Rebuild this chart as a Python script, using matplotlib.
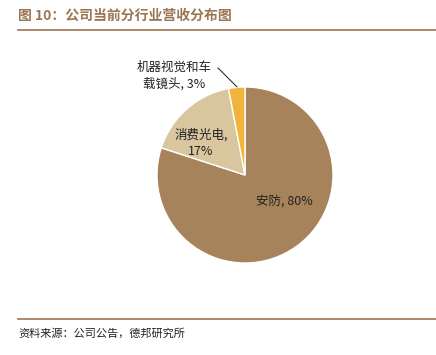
import matplotlib.pyplot as plt
from matplotlib.lines import Line2D

plt.rcParams['font.family'] = ['Noto Sans CJK SC', 'DejaVu Sans']

# data
labels = ["安防", "消费光电", "机器视觉和车\n载镜头"]
shares = [80, 17, 3]
colors = ["#A6835B", "#D9C69F", "#F1B43A"]

W, H = 436, 355
fig = plt.figure(figsize=(W / 100, H / 100), dpi=100)

# title + lines
fig.text(18 / W, 1 - 16 / H, "图 10：公司当前分行业营收分布图", fontsize=10,
         fontweight="bold", color="#9B7654", va="center", ha="left")
fig.add_artist(Line2D([18 / W, 1.0], [1 - 29.5 / H, 1 - 29.5 / H],
                      color="#A87E5E", lw=1.3))
fig.add_artist(Line2D([18 / W, 1.0], [1 - 319 / H, 1 - 319 / H],
                      color="#A87E5E", lw=1.3))
fig.text(18 / W, 1 - 333 / H, "资料来源：公司公告，德邦研究所", fontsize=8,
         color="#222222", va="center", ha="left")

# pie
cx, cy, r = 245, 175, 88
ax = fig.add_axes([(cx - r) / W, (H - cy - r) / H, 2 * r / W, 2 * r / H])
wedges, _ = ax.pie(shares, colors=colors, startangle=90, counterclock=False,
                   wedgeprops=dict(edgecolor="white", linewidth=1))
ax.set_xlim(-1, 1)
ax.set_ylim(-1, 1)
ax.axis("off")

ax.text(0.45, -0.3, f"{labels[0]}, {shares[0]}%", fontsize=9,
        ha="center", va="center", color="#222222")
ax.text(-0.5, 0.36, f"{labels[1]},\n{shares[1]}%", fontsize=9,
        ha="center", va="center", color="#222222", linespacing=1.3)
ax.annotate(f"{labels[2]}, {shares[2]}%", xy=(-0.09, 1.0), xytext=(-0.8, 1.13),
            fontsize=9, ha="center", va="center", color="#222222",
            linespacing=1.3, annotation_clip=False,
            arrowprops=dict(arrowstyle="-", color="#333333", lw=0.8,
                            connectionstyle="angle,angleA=0,angleB=135,rad=0",
                            shrinkA=2, shrinkB=0, relpos=(1.0, 0.75)))

fig.savefig("out.png", dpi=100)
